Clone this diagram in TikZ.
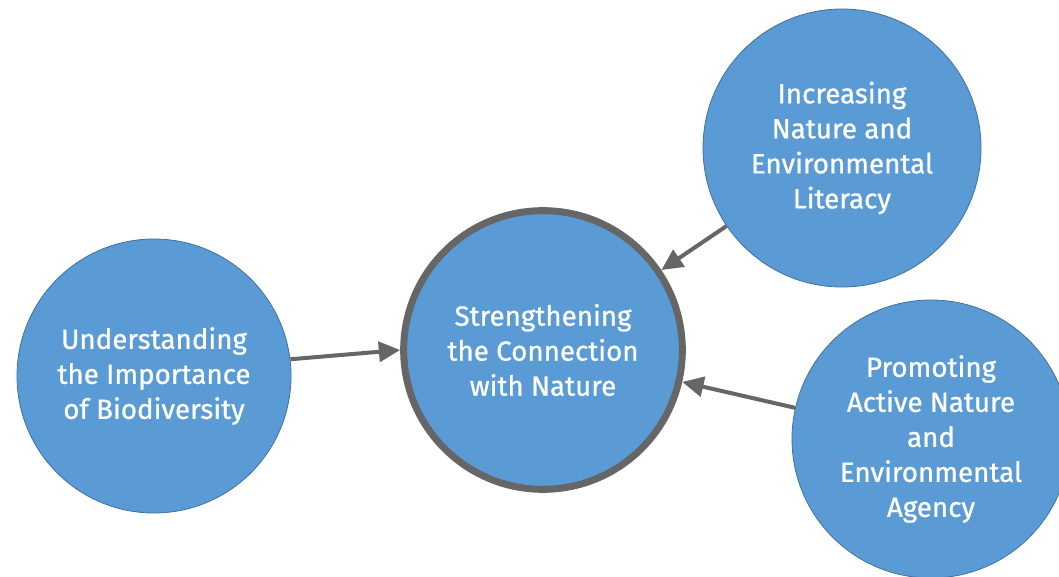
\documentclass[tikz,border=0pt]{standalone}
\usepackage{fontspec}
\setmainfont{Fira Sans}
\newfontfamily\labelfont[FakeBold=0.8]{Fira Sans}
\usepackage{xcolor}
\usetikzlibrary{arrows.meta,shapes.geometric}
\definecolor{fillblue}{HTML}{5B9BD5}
\definecolor{edgeblue}{HTML}{41719C}
\definecolor{arrowgray}{HTML}{666666}
\tikzset{%
	topic/.style = {circle, draw=edgeblue, fill=fillblue, line width=0.6pt, minimum size=#1, inner sep=0pt, text=white, align=center, font=\labelfont\fontsize{20.8}{26.25}\selectfont},
	topic/.default = 206pt,
	hub/.style   = {topic=209pt, draw=arrowgray, line width=5.25pt},
	arrow/.style = {draw=arrowgray, line width=3pt, -{Triangle[length=16pt,width=15pt]}},
}

\begin{document}
\begin{tikzpicture}[x=0.75pt,y=-0.75pt]
	\useasboundingbox (0,0) rectangle (1059,577);
	\clip (0,0) rectangle (1059,577);
	\node[topic=205.5pt] (bio) at (154,376) {Understanding\\the Importance\\of Biodiversity};
	\node[hub] (core) at (543,350) {Strengthening\\the Connection\\with Nature};
	\node[topic=208.5pt] (lit) at (842,148) {Increasing\\Nature and\\Environmental\\Literacy};
	\node[topic=208.5pt] (act) at (931,439) {Promoting\\Active Nature\\and\\Environmental\\Agency};
	
	\draw[arrow] (bio.7) -- (core.180);
	\draw[arrow] (lit) -- (core);
	\draw[arrow] (act) -- (core);
\end{tikzpicture}
\end{document}
